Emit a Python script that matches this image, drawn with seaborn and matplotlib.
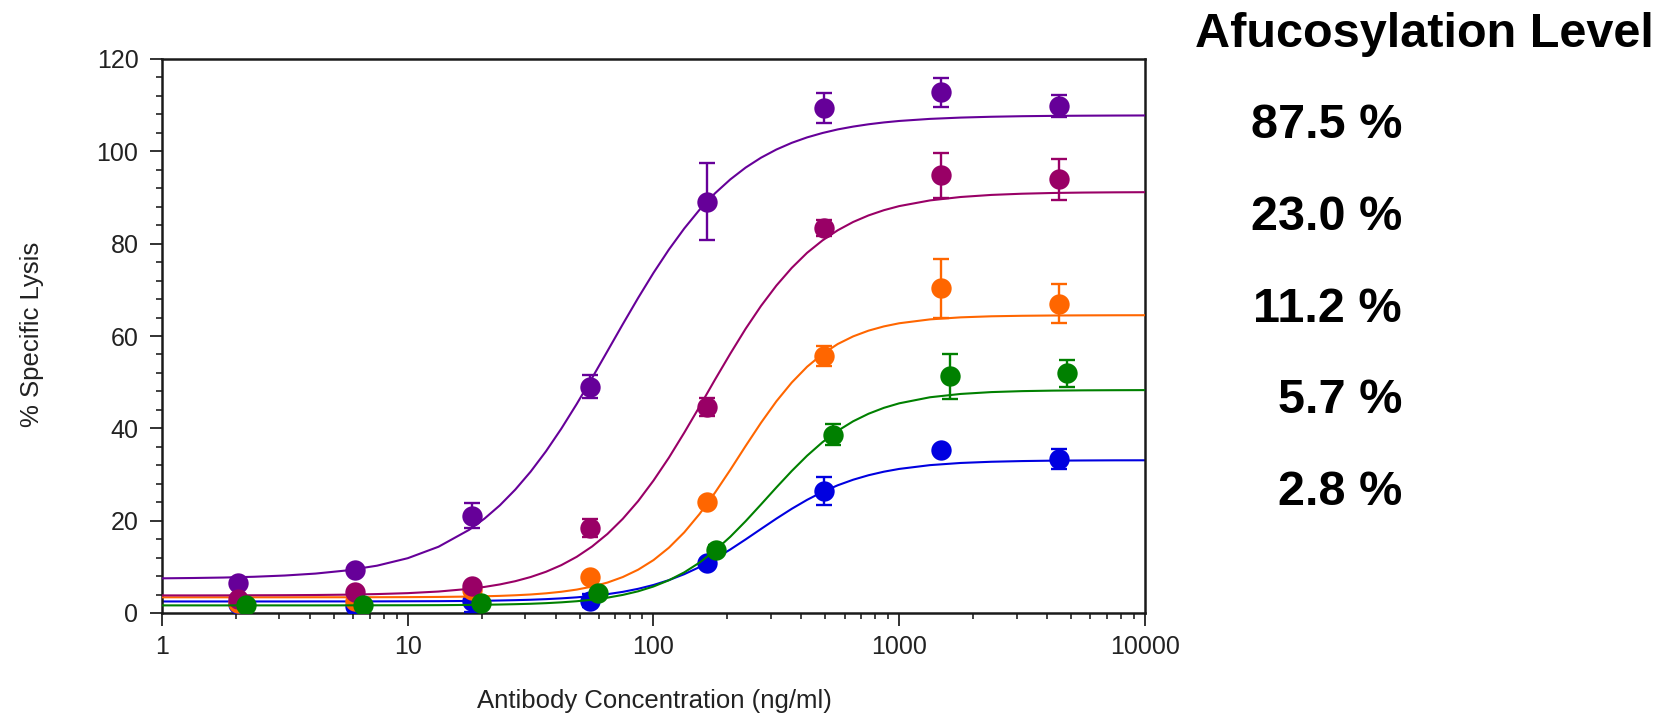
import matplotlib
matplotlib.use("Agg")
import matplotlib.pyplot as plt
import seaborn as sns
import pandas as pd
from matplotlib.ticker import LogLocator, MultipleLocator, NullFormatter

# ---------------- data ----------------
levels = ["87.5 %", "23.0 %", "11.2 %", "5.7 %", "2.8 %"]
header = "Afucosylation Level"
x_label = "Antibody Concentration (ng/ml)"
y_label = "% Specific Lysis"
x_ticks = [1, 10, 100, 1000, 10000]
x_tick_labels = ["1", "10", "100", "1000", "10000"]
y_ticks = [0, 20, 40, 60, 80, 100, 120]

conc = [2.03, 6.1, 18.3, 55, 165, 494, 1482, 4447]
conc_green = [2.2, 6.6, 19.9, 59.5, 179, 536, 1608, 4825]

lysis_875 = [6.6, 9.4, 21.1, 49.0, 89.1, 109.4, 112.8, 109.9]
err_875 = [1.0, 0.8, 2.7, 2.5, 8.3, 3.2, 3.1, 2.4]
lysis_230 = [3.0, 4.5, 5.9, 18.4, 44.6, 83.4, 94.8, 93.9]
err_230 = [0.5, 0.5, 0.6, 2.0, 2.0, 1.8, 4.9, 4.5]
lysis_112 = [2.2, 2.5, 5.0, 7.9, 24.0, 55.6, 70.3, 67.0]
err_112 = [0.5, 0.5, 0.5, 0.8, 1.0, 2.2, 6.3, 4.2]
lysis_57 = [1.8, 1.8, 2.2, 4.3, 13.7, 38.6, 51.3, 51.9]
err_57 = [0.5, 0.5, 0.5, 0.6, 1.0, 2.3, 4.9, 3.0]
lysis_28 = [2.0, 1.6, 2.5, 2.7, 10.8, 26.4, 35.2, 33.4]
err_28 = [0.5, 1.0, 2.2, 1.5, 1.0, 3.0, 0.8, 2.2]

# fitted curves read along the x axis
curve_conc = [1, 1.334, 1.778, 2.371, 3.162, 4.217, 5.623, 7.499, 10, 13.34, 17.78,
              20.54, 23.71, 27.38, 31.62, 36.52, 42.17, 48.70, 56.23, 64.94, 74.99,
              86.60, 100, 115.5, 133.4, 154.0, 177.8, 205.4, 237.1, 273.8, 316.2,
              365.2, 421.7, 487.0, 562.3, 649.4, 749.9, 866.0, 1000,
              1334, 1778, 2371, 3162, 4217, 5623, 7499, 10000]
fit_875 = [7.51, 7.58, 7.68, 7.85, 8.12, 8.54, 9.21, 10.25, 11.87, 14.35, 18.02,
           20.46, 23.33, 26.72, 30.61, 35.03, 39.94, 45.27, 50.90, 56.72, 62.55,
           68.25, 73.68, 78.72, 83.29, 87.36, 90.89, 93.92, 96.48, 98.62, 100.39,
           101.84, 103.02, 103.97, 104.75, 105.36, 105.86, 106.26, 106.58,
           107.03, 107.31, 107.49, 107.61, 107.68, 107.72, 107.75, 107.77]
fit_230 = [3.81, 3.81, 3.82, 3.84, 3.86, 3.90, 3.97, 4.10, 4.30, 4.65, 5.23,
           5.65, 6.19, 6.89, 7.79, 8.93, 10.37, 12.17, 14.40, 17.12, 20.40,
           24.24, 28.69, 33.64, 39.06, 44.72, 50.52, 56.18, 61.57, 66.51, 70.92,
           74.75, 78.02, 80.70, 82.91, 84.70, 86.12, 87.25, 88.14,
           89.37, 90.11, 90.56, 90.82, 90.98, 91.07, 91.12, 91.15]
fit_112 = [3.40, 3.40, 3.40, 3.40, 3.40, 3.41, 3.41, 3.42, 3.44, 3.48, 3.56,
           3.62, 3.71, 3.84, 4.01, 4.26, 4.60, 5.07, 5.72, 6.59, 7.79,
           9.38, 11.46, 14.14, 17.47, 21.46, 26.04, 31.02, 36.18, 41.20, 45.85,
           49.92, 53.34, 56.10, 58.27, 59.92, 61.16, 62.08, 62.76,
           63.60, 64.04, 64.27, 64.38, 64.44, 64.47, 64.49, 64.50]
fit_57 = [1.65, 1.65, 1.65, 1.65, 1.65, 1.65, 1.66, 1.67, 1.68, 1.70, 1.75,
          1.79, 1.84, 1.91, 2.00, 2.13, 2.31, 2.55, 2.88, 3.32, 3.92,
          4.70, 5.74, 7.09, 8.80, 10.93, 13.51, 16.52, 19.89, 23.51, 27.19,
          30.76, 34.07, 37.00, 39.48, 41.53, 43.16, 44.44, 45.42,
          46.73, 47.45, 47.85, 48.06, 48.17, 48.23, 48.26, 48.28]
fit_28 = [2.50, 2.50, 2.50, 2.50, 2.50, 2.51, 2.51, 2.52, 2.54, 2.56, 2.61,
          2.65, 2.71, 2.78, 2.87, 3.00, 3.17, 3.39, 3.69, 4.08, 4.58,
          5.24, 6.07, 7.12, 8.41, 9.95, 11.74, 13.76, 15.94, 18.20, 20.44,
          22.57, 24.51, 26.22, 27.67, 28.87, 29.84, 30.61, 31.21,
          32.03, 32.50, 32.76, 32.91, 33.00, 33.04, 33.07, 33.08]

colors = {"87.5 %": "#660099", "23.0 %": "#990066", "11.2 %": "#ff6600",
          "5.7 %": "#008000", "2.8 %": "#0000e0"}

series = {
    "87.5 %": (conc, lysis_875, err_875, fit_875),
    "23.0 %": (conc, lysis_230, err_230, fit_230),
    "11.2 %": (conc, lysis_112, err_112, fit_112),
    "5.7 %": (conc_green, lysis_57, err_57, fit_57),
    "2.8 %": (conc, lysis_28, err_28, fit_28),
}
draw_order = ["2.8 %", "87.5 %", "11.2 %", "23.0 %", "5.7 %"]

# ---------------- figure ----------------
sns.set_style("ticks")
plt.rcParams["font.family"] = ["Liberation Sans", "DejaVu Sans"]

W, H = 1661, 716
fig = plt.figure(figsize=(W / 100, H / 100), dpi=100)
fig.patch.set_facecolor("white")
L, R, T, B = 162, 1145, 59, 613
ax = fig.add_axes([L / W, 1 - B / H, (R - L) / W, (B - T) / H])

for i, key in enumerate(draw_order):
    xs, ys, es, fit = series[key]
    col = colors[key]
    cdf = pd.DataFrame({"conc": curve_conc, "lysis": fit})
    sns.lineplot(data=cdf, x="conc", y="lysis", color=col, linewidth=1.5,
                 estimator=None, sort=False, ax=ax, zorder=2 + i * 3)
    ax.errorbar(xs, ys, yerr=es, fmt="none", ecolor=col, elinewidth=1.7,
                capsize=6, capthick=1.7, zorder=3 + i * 3)
    pdf = pd.DataFrame({"conc": xs, "lysis": ys})
    sns.scatterplot(data=pdf, x="conc", y="lysis", color=col, s=215, linewidth=0,
                    marker="o", ax=ax, zorder=4 + i * 3)

ax.set_xscale("log")
ax.set_xlim(1, 10000)
ax.set_ylim(0, 120)
ax.set_xticks(x_ticks)
ax.set_xticklabels(x_tick_labels)
ax.xaxis.set_minor_locator(LogLocator(base=10, subs=[2, 3, 4, 5, 6, 7, 8, 9]))
ax.xaxis.set_minor_formatter(NullFormatter())
ax.set_yticks(y_ticks)
ax.yaxis.set_minor_locator(MultipleLocator(4))

ax.tick_params(axis="both", which="major", direction="out", length=9, width=1.3,
               labelsize=18, pad=7, labelcolor="#222222", color="#222222")
ax.tick_params(axis="y", which="major", pad=8)
ax.tick_params(axis="both", which="minor", direction="out", length=4, width=1.2,
               color="#222222")
ax.tick_params(top=False, right=False, which="both")

for sp in ax.spines.values():
    sp.set_visible(True)
    sp.set_color("#1a1a1a")
    sp.set_linewidth(1.8)

ax.set_xlabel("")
ax.set_ylabel("")
fig.text(654 / W, 1 - 701 / H, x_label, ha="center", va="center", fontsize=18.5,
         color="#222222")
fig.text(32 / W, 1 - 334 / H, y_label, ha="center", va="center", fontsize=18.5,
         rotation=90, color="#222222")

# right-hand annotations
fig.text(1195 / W, 1 - 46.7 / H, header, ha="left", va="baseline", fontsize=35,
         fontweight="bold", color="black")
baselines = [138.3, 230, 321.7, 413.3, 505]
for lab, yb in zip(levels, baselines):
    fig.text(1402 / W, 1 - yb / H, lab, ha="right", va="baseline", fontsize=35,
             fontweight="bold", color="black")

fig.savefig("out.png", dpi=100, facecolor="white")
